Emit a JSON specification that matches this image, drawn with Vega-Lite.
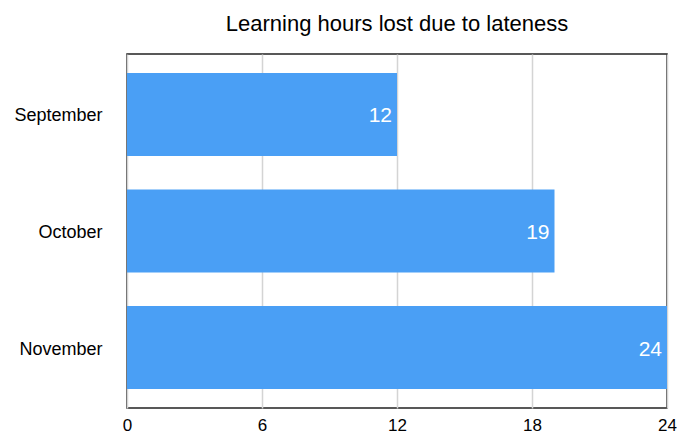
{
  "$schema": "https://vega.github.io/schema/vega-lite/v6.json",
  "autosize": {"type": "none"},
  "padding": {"left": 127, "top": 54, "right": 10, "bottom": 28},
  "width": 540,
  "height": 354,
  "background": "white",
  "title": {"text": "Learning hours lost due to lateness", "font": "Liberation Sans", "fontSize": 22, "fontWeight": "normal", "color": "#000000", "offset": 18, "anchor": "middle"},
  "config": {
    "view": {"stroke": "#222222", "strokeWidth": 1.5},
    "font": "Liberation Sans"
  },
  "data": {"values": [
    {"month": "September", "hours": 12},
    {"month": "October", "hours": 19},
    {"month": "November", "hours": 24}
  ]},
  "encoding": {
    "y": {"field": "month", "type": "nominal", "sort": null,
      "scale": {"paddingInner": 0.286, "paddingOuter": 0.162},
      "axis": {"title": null, "domain": false, "ticks": false, "labelFontSize": 18, "labelColor": "#000000", "labelPadding": 25, "labelOffset": 2, "grid": false}},
    "x": {"field": "hours", "type": "quantitative",
      "scale": {"domain": [0, 24], "nice": false},
      "axis": {"title": null, "values": [0, 6, 12, 18, 24], "domain": false, "ticks": false, "labelFontSize": 17, "labelColor": "#000000", "labelPadding": 9, "grid": true, "gridColor": "#d4d4d4", "gridWidth": 1.5, "labelFlush": false}}
  },
  "layer": [
    {"mark": {"type": "bar", "color": "#4a9ff5"}},
    {"mark": {"type": "text", "align": "right", "dx": -5, "dy": 2, "color": "white", "fontSize": 21, "baseline": "middle"},
     "encoding": {"text": {"field": "hours", "type": "quantitative"}}}
  ]
}
